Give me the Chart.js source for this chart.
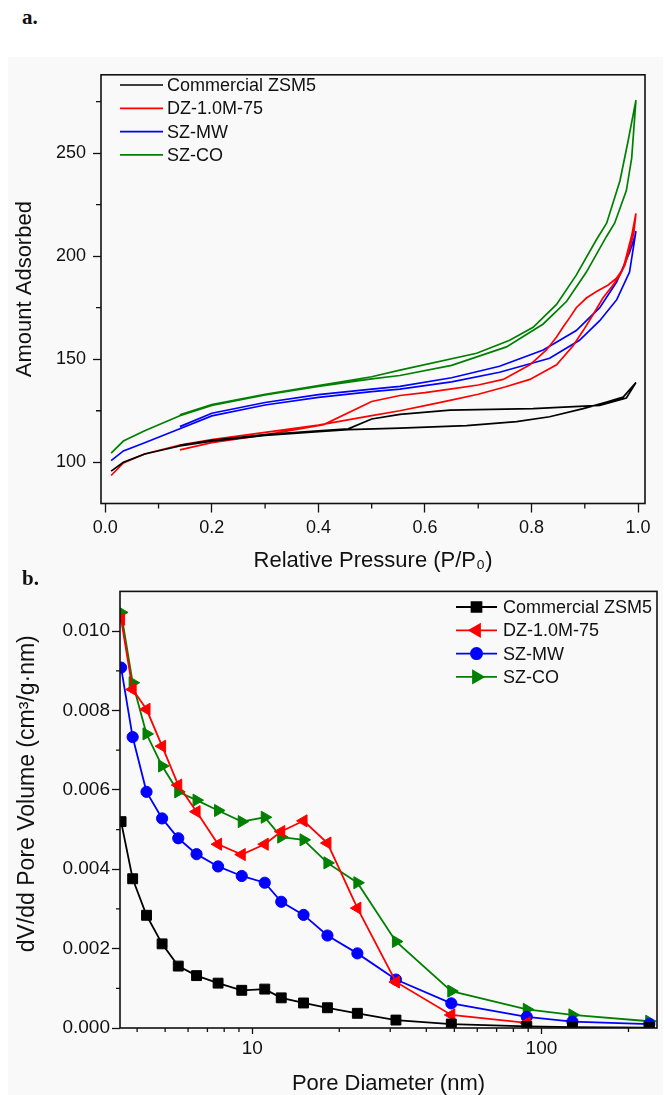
<!DOCTYPE html>
<html><head><meta charset="utf-8">
<script src="https://cdn.jsdelivr.net/npm/chart.js@4.4.0/dist/chart.umd.min.js"></script>
<style>
html,body{margin:0;padding:0;background:#fff;}
body{width:665px;height:1095px;position:relative;overflow:hidden;}
#bg{position:absolute;left:8px;top:57px;width:655px;height:1038px;background:#f9f9f9;}
.lab{position:absolute;font-family:"Liberation Serif","Times New Roman",serif;font-weight:bold;font-size:21px;color:#111;z-index:5;}
canvas{position:absolute;}
</style></head><body>
<div id="bg"></div>
<canvas id="chartA" width="652" height="520" style="left:8px;top:57px;width:652px;height:520px"></canvas>
<canvas id="chartB" width="657" height="517" style="left:8px;top:578px;width:657px;height:517px"></canvas>
<div class="lab" style="left:22px;top:5px">a.</div>
<div class="lab" style="left:22px;top:566px">b.</div>
<script>
// ---------- data: (a) N2 isotherms ----------
const sampleNames = ['Commercial ZSM5', 'DZ-1.0M-75', 'SZ-MW', 'SZ-CO'];
const sampleColors = ['#000000', '#ff0000', '#0000ff', '#008000'];

const zsmAdsP = [0.011, 0.034, 0.074, 0.14, 0.2, 0.3, 0.4, 0.456, 0.553, 0.678, 0.772, 0.834, 0.897, 0.941, 0.972, 0.996];
const zsmAdsV = [95.7, 100, 104, 107.9, 110.3, 113, 114.9, 115.8, 116.6, 117.8, 119.7, 122.1, 126, 129.2, 131.6, 138.7];
const zsmDesP = [0.996, 0.978, 0.928, 0.803, 0.647, 0.553, 0.5, 0.456, 0.4, 0.3, 0.2, 0.14];
const zsmDesV = [138.7, 131.2, 127.6, 126, 125.3, 123.2, 121, 116.2, 115.3, 113.4, 110.7, 108.2];

const dzAdsP = [0.011, 0.034, 0.074, 0.14, 0.2, 0.3, 0.4, 0.5, 0.553, 0.6, 0.647, 0.7, 0.75, 0.797, 0.847, 0.878, 0.897, 0.916, 0.934, 0.953, 0.966, 0.975, 0.984, 0.992, 0.996];
const dzAdsV = [93.6, 99.7, 104, 108.4, 111, 114.5, 118, 122.6, 125, 127.5, 130, 133, 136.5, 140.2, 147.3, 156.5, 163.9, 171.8, 179.7, 186, 190.8, 195.5, 203.4, 211.3, 220.7];
const dzDesP = [0.996, 0.988, 0.972, 0.959, 0.944, 0.922, 0.903, 0.884, 0.872, 0.859, 0.847, 0.828, 0.797, 0.747, 0.7, 0.647, 0.6, 0.553, 0.5, 0.41, 0.3, 0.2, 0.14];
const dzDesV = [220.7, 210, 193.9, 189.2, 186, 182.9, 179.7, 175, 170.3, 165.5, 160.8, 154.5, 147.3, 140.2, 137.5, 135.5, 133.8, 132.4, 129.5, 118.3, 113.3, 109.5, 106];

const mwAdsP = [0.011, 0.034, 0.074, 0.14, 0.2, 0.3, 0.4, 0.5, 0.553, 0.65, 0.74, 0.834, 0.89, 0.928, 0.96, 0.984, 0.996];
const mwAdsV = [100.8, 105.5, 109.5, 116.3, 122.5, 127.8, 131.5, 134.3, 135.5, 139, 143.7, 150.5, 159.2, 168.7, 178.9, 192.3, 212.1];
const mwDesP = [0.996, 0.994, 0.984, 0.96, 0.928, 0.884, 0.822, 0.74, 0.65, 0.553, 0.5, 0.4, 0.3, 0.2, 0.14];
const mwDesV = [212.1, 209.7, 201.8, 187.6, 175, 163.9, 154.5, 146.6, 141, 136.8, 135.5, 132.8, 129, 123.8, 117.3];

const coAdsP = [0.011, 0.034, 0.074, 0.14, 0.2, 0.3, 0.4, 0.5, 0.553, 0.65, 0.753, 0.822, 0.866, 0.903, 0.941, 0.956, 0.978, 0.988, 0.996];
const coAdsV = [104.4, 110.3, 115.3, 122.6, 127.6, 132.7, 136.8, 140.5, 142.1, 147, 156, 167.1, 178.1, 192.3, 209.7, 216, 231.8, 247.6, 275.7];
const coDesP = [0.996, 0.981, 0.966, 0.941, 0.922, 0.884, 0.847, 0.803, 0.759, 0.697, 0.553, 0.5, 0.4, 0.3, 0.2, 0.14];
const coDesV = [275.7, 255.5, 236.6, 216, 208.1, 190.8, 176.6, 165.5, 159.2, 152.9, 144.7, 141.5, 137.2, 133, 128, 123];

const pressureTicks = [0, 0.2, 0.4, 0.6, 0.8, 1.0];
const pressureMinor = [0.1, 0.3, 0.5, 0.7, 0.9];
const amountTicks = [100, 150, 200, 250];
const amountMinor = [125, 175, 225, 275];

// ---------- data: (b) pore size distribution ----------
const poreDiameter = [3.52, 3.86, 4.31, 4.88, 5.55, 6.42, 7.62, 9.2, 11.05, 12.6, 15.05, 18.2, 23.1, 31.4, 48.8, 89, 128, 236];
const zsmPSD = [0.0052, 0.00376, 0.00284, 0.00212, 0.00156, 0.00132, 0.00113, 0.00095, 0.00098, 0.00076, 0.00063, 0.00051, 0.00037, 0.0002, 0.0001, 0.00004, 0.00002, 0.00001];
const dzPSD = [0.0103, 0.00853, 0.00803, 0.0071, 0.00612, 0.00545, 0.00463, 0.00437, 0.00463, 0.00495, 0.00522, 0.00466, 0.00302, 0.00116, 0.00033, 0.00013];
const mwPSD = [0.00908, 0.00733, 0.00595, 0.00528, 0.00478, 0.00438, 0.00407, 0.00383, 0.00366, 0.00318, 0.00285, 0.00233, 0.00188, 0.00122, 0.00062, 0.00028, 0.00016, 0.0001];
const coPSD = [0.01047, 0.0087, 0.00741, 0.0066, 0.00595, 0.00574, 0.00548, 0.0052, 0.00531, 0.00481, 0.00474, 0.00416, 0.00366, 0.00218, 0.00093, 0.00047, 0.00033, 0.00017];

const diameterTicks = [10, 100];
const diameterMinor = [4, 5, 6, 7, 8, 9, 20, 30, 40, 50, 60, 70, 80, 90, 200];
const volumeTicks = [0, 0.002, 0.004, 0.006, 0.008, 0.010];
const volumeMinor = [0.001, 0.003, 0.005, 0.007, 0.009];

// ---------- helpers ----------
const FONT = '"Liberation Sans", Arial, Helvetica, sans-serif';
const INK = '#111111';
const pts = (xs, ys) => xs.map((x, i) => ({x, y: ys[i]})).filter(p => p.y !== undefined);

const frameTicks = {
  id: 'frameTicks',
  afterDatasetsDraw(chart, args, o) {
    const {ctx, chartArea: {left, top, right, bottom}, scales} = chart;
    ctx.save();
    ctx.strokeStyle = INK;
    ctx.lineWidth = o.tickWidth;
    ctx.beginPath();
    o.xMinor.forEach(v => { const p = scales.x.getPixelForValue(v); ctx.moveTo(p, bottom); ctx.lineTo(p, bottom + o.minorLen); });
    o.yMinor.forEach(v => { const p = scales.y.getPixelForValue(v); ctx.moveTo(left, p); ctx.lineTo(left - o.minorLen, p); });
    ctx.stroke();
    ctx.lineWidth = o.frameWidth;
    ctx.strokeRect(left, top, right - left, bottom - top);
    ctx.restore();
  }
};

function drawMarker(ctx, style, r, rot, x, y) {
  if (Chart.helpers && Chart.helpers.drawPoint) {
    Chart.helpers.drawPoint(ctx, {pointStyle: style, radius: r, rotation: rot, borderWidth: 1}, x, y);
    return;
  }
  ctx.beginPath(); ctx.arc(x, y, r, 0, Math.PI * 2); ctx.fill();
}

const insideLegend = {
  id: 'insideLegend',
  afterDraw(chart, args, o) {
    const {ctx} = chart;
    ctx.save();
    ctx.font = o.fontSize + 'px ' + FONT;
    ctx.textBaseline = 'middle';
    chart.data.datasets.forEach((ds, i) => {
      const y = o.y + i * o.gap;
      ctx.strokeStyle = ds.borderColor;
      ctx.lineWidth = o.lineWidth;
      ctx.beginPath(); ctx.moveTo(o.x1, y); ctx.lineTo(o.x2, y); ctx.stroke();
      if (o.markers) {
        ctx.fillStyle = ds.pointBackgroundColor;
        ctx.strokeStyle = ds.pointBorderColor;
        drawMarker(ctx, ds.pointStyle, ds.pointRadius, ds.pointRotation || 0, (o.x1 + o.x2) / 2, y);
      }
      ctx.fillStyle = INK;
      ctx.fillText(ds.label, o.tx, y + 1);
    });
    ctx.restore();
  }
};

// ---------- chart (a) ----------
const isoSets = [
  [zsmAdsP, zsmAdsV, zsmDesP, zsmDesV],
  [dzAdsP, dzAdsV, dzDesP, dzDesV],
  [mwAdsP, mwAdsV, mwDesP, mwDesV],
  [coAdsP, coAdsV, coDesP, coDesV]
];

new Chart(document.getElementById('chartA'), {
  type: 'scatter',
  data: {
    datasets: isoSets.map((s, i) => ({
      label: sampleNames[i],
      data: pts(s[0], s[1]).concat(pts(s[2], s[3])),
      showLine: true,
      borderColor: sampleColors[i],
      backgroundColor: sampleColors[i],
      borderWidth: 1.7,
      pointRadius: 0,
      tension: 0
    }))
  },
  options: {
    responsive: false,
    animation: false,
    layout: {padding: {left: 0, top: 7, right: 15, bottom: 0}},
    plugins: {
      legend: {display: false},
      tooltip: {enabled: false},
      frameTicks: {xMinor: pressureMinor, yMinor: amountMinor, minorLen: 5, tickWidth: 1.3, frameWidth: 1.6},
      insideLegend: {x1: 112, x2: 155, tx: 159, y: 28, gap: 23.3, fontSize: 18, lineWidth: 1.7, markers: false}
    },
    scales: {
      x: {
        type: 'linear', min: -0.008, max: 1.013,
        afterBuildTicks: s => { s.ticks = pressureTicks.map(v => ({value: v})); },
        afterFit: s => { s.height = 73.5; },
        ticks: {callback: v => Number(v).toFixed(1), font: {size: 18, family: FONT}, color: INK, padding: 5, maxRotation: 0, autoSkip: false},
        grid: {display: true, drawOnChartArea: false, drawTicks: true, tickLength: 9, tickColor: INK, tickWidth: 1.3},
        border: {display: false},
        title: {display: true, text: 'Relative Pressure (P/P₀)', color: INK, font: {size: 22, family: FONT, lineHeight: 1}, padding: {top: 0, bottom: 5}}
      },
      y: {
        type: 'linear', min: 80, max: 288,
        afterBuildTicks: s => { s.ticks = amountTicks.map(v => ({value: v})); },
        afterFit: s => { s.width = 93; },
        ticks: {font: {size: 18, family: FONT}, color: INK, padding: 7, autoSkip: false},
        grid: {display: true, drawOnChartArea: false, drawTicks: true, tickLength: 8, tickColor: INK, tickWidth: 1.3},
        border: {display: false},
        title: {display: true, text: 'Amount Adsorbed', color: INK, font: {size: 22, family: FONT, lineHeight: 1}, padding: {top: 6, bottom: 0}}
      }
    }
  },
  plugins: [frameTicks, insideLegend]
});

// ---------- chart (b) ----------
const psdSeries = [zsmPSD, dzPSD, mwPSD, coPSD];
const psdStyles = [
  {style: 'rect', r: 7, rot: 0},
  {style: 'triangle', r: 7, rot: -90},
  {style: 'circle', r: 5.6, rot: 0},
  {style: 'triangle', r: 7, rot: 90}
];

new Chart(document.getElementById('chartB'), {
  type: 'scatter',
  data: {
    datasets: psdSeries.map((vals, i) => ({
      label: sampleNames[i],
      data: pts(poreDiameter, vals),
      showLine: true,
      borderColor: sampleColors[i],
      backgroundColor: sampleColors[i],
      pointBackgroundColor: sampleColors[i],
      pointBorderColor: sampleColors[i],
      pointBorderWidth: 1,
      borderWidth: 1.8,
      pointStyle: psdStyles[i].style,
      pointRadius: psdStyles[i].r,
      pointRotation: psdStyles[i].rot,
      tension: 0
    }))
  },
  options: {
    responsive: false,
    animation: false,
    layout: {padding: {left: 0, top: 11, right: 2, bottom: 0}},
    plugins: {
      legend: {display: false},
      tooltip: {enabled: false},
      frameTicks: {xMinor: diameterMinor, yMinor: volumeMinor, minorLen: 4, tickWidth: 1.3, frameWidth: 1.6},
      insideLegend: {x1: 448, x2: 489, tx: 495, y: 29, gap: 23.3, fontSize: 18, lineWidth: 1.8, markers: true}
    },
    scales: {
      x: {
        type: 'logarithmic', min: 3.49, max: 251,
        afterBuildTicks: s => { s.ticks = diameterTicks.map(v => ({value: v})); },
        afterFit: s => { s.height = 67; },
        ticks: {callback: v => String(v), font: {size: 19, family: FONT}, color: INK, padding: 3, maxRotation: 0, autoSkip: false},
        grid: {display: true, drawOnChartArea: false, drawTicks: true, tickLength: 6, tickColor: INK, tickWidth: 1.3},
        border: {display: false},
        title: {display: true, text: 'Pore Diameter (nm)', color: INK, font: {size: 22, family: FONT, lineHeight: 1}, padding: {top: 0, bottom: 0}}
      },
      y: {
        type: 'linear', min: 0, max: 0.011,
        afterBuildTicks: s => { s.ticks = volumeTicks.map(v => ({value: v})); },
        afterFit: s => { s.width = 112; },
        ticks: {callback: v => Number(v).toFixed(3), font: {size: 19, family: FONT}, color: INK, padding: 2, autoSkip: false},
        grid: {display: true, drawOnChartArea: false, drawTicks: true, tickLength: 8, tickColor: INK, tickWidth: 1.3},
        border: {display: false},
        title: {display: true, text: '     dV/dd Pore Volume (cm³/g·nm)', color: INK, font: {size: 23, family: FONT, lineHeight: 1}, padding: {top: 8, bottom: 0}}
      }
    }
  },
  plugins: [frameTicks, insideLegend]
});
</script>
</body></html>
